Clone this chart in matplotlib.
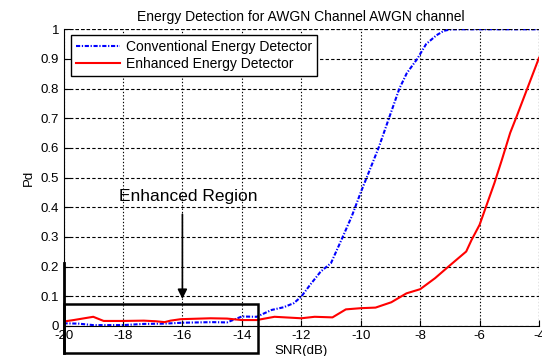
import numpy as np
import matplotlib
matplotlib.use("Agg")
import matplotlib.pyplot as plt
from matplotlib.patches import Rectangle

plt.rcParams['font.family'] = ['Liberation Sans', 'DejaVu Sans']

# conventional detector (blue, dash-dot)
snr_conv = [-20, -19.5, -19, -18.5, -18, -17.3, -16.6, -16, -15.5, -15, -14.5, -14.3,
            -14, -13.5, -13, -12.6, -12.25, -12, -11.7, -11.35, -11, -10.65, -10.3,
            -10.0, -9.8, -9.4, -9.05, -8.7, -8.45, -8.1, -7.8, -7.45, -7.2, -6.95,
            -6.5, -6, -5, -4]
pd_conv = [0.009, 0.008, 0.003, 0.003, 0.003, 0.007, 0.008, 0.011, 0.012, 0.013, 0.012, 0.02,
           0.032, 0.031, 0.054, 0.063, 0.077, 0.099, 0.139, 0.183, 0.212, 0.29, 0.37,
           0.45, 0.5, 0.6, 0.7, 0.8, 0.852, 0.9, 0.95, 0.98, 0.995, 1.0,
           1.0, 1.0, 1.0, 1.0]

# enhanced detector (red, solid)
snr_enh = [-20, -19.66, -19, -18.65, -18, -17.3, -16.9, -16.6, -16.4, -16.05, -15.05, -14.5,
           -14.0, -13.5, -12.9, -12.0, -11.55, -10.95, -10.5, -10.0, -9.5, -8.97, -8.46,
           -8.0, -7.5, -7.05, -6.45, -6.27, -6.0, -5.5, -5.25, -4.97, -4.75, -4.0]
pd_enh = [0.015, 0.02, 0.031, 0.017, 0.017, 0.018, 0.016, 0.013, 0.018, 0.023, 0.026, 0.025,
          0.02, 0.02, 0.031, 0.026, 0.031, 0.029, 0.056, 0.06, 0.062, 0.08, 0.11,
          0.124, 0.161, 0.2, 0.251, 0.29, 0.341, 0.482, 0.56, 0.651, 0.707, 0.904]

xticks = np.arange(-20, -3, 2)
yticks = np.round(np.arange(0, 1.01, 0.1), 1)
ytick_labels = ['0'] + ['%.1f' % v for v in yticks[1:-1]] + ['1']

fig = plt.figure(figsize=(5.42, 3.56), dpi=100)
ax = fig.add_axes([0.1172, 0.0843, 0.8773, 0.8334])

ax.plot(snr_conv, pd_conv, color='blue', ls=(0, (2, 0.8, 0.6, 0.8)), lw=1.5,
        label='Conventional Energy Detector')
ax.plot(snr_enh, pd_enh, color='red', ls='-', lw=1.5, label='Enhanced Energy Detector')

ax.set_xlim(-20, -4)
ax.set_ylim(0, 1)
ax.set_xticks(xticks)
ax.set_xticklabels([str(v) for v in xticks])
ax.set_yticks(yticks)
ax.set_yticklabels(ytick_labels)
ax.tick_params(direction='in', length=4, labelsize=9.5, top=False, right=False, pad=3)

# grid: dotted verticals, dashed horizontals
ax.xaxis.grid(True, color='black', ls=(0, (1.2, 1.8)), lw=0.8)
ax.yaxis.grid(True, color='black', ls=(0, (3, 2)), lw=0.8)
ax.spines['top'].set_visible(False)
ax.spines['right'].set_visible(False)
ax.plot([-20, -4], [1, 1], color='black', ls=(0, (3, 2)), lw=0.8)
ax.plot([-4, -4], [0, 1], color='black', ls=(0, (1.2, 1.8)), lw=0.8)

ax.set_title('Energy Detection for AWGN Channel AWGN channel', fontsize=10, pad=6)
ax.set_xlabel('SNR(dB)', fontsize=9.5, labelpad=2)
ax.set_ylabel('Pd', fontsize=9.5, labelpad=4)

leg = ax.legend(loc='upper left', bbox_to_anchor=(0.0158, 0.981), borderaxespad=0,
                fontsize=10, fancybox=False, edgecolor='black', framealpha=1,
                handlelength=3.2, borderpad=0.35, labelspacing=0.25, handletextpad=0.4)
leg.get_frame().set_linewidth(1.0)

# enhanced region marker
ax.add_patch(Rectangle((-20, -0.091), 6.53, 0.164, fill=False, ec='black', lw=1.8,
                       clip_on=False, zorder=5))
ax.plot([-20, -20], [-0.091, 0.213], color='black', lw=2, clip_on=False, zorder=5)
ax.annotate('', xy=(-16, 0.082), xytext=(-16, 0.386),
            arrowprops=dict(arrowstyle='-|>', color='black', lw=1.2, mutation_scale=14))
ax.text(-15.8, 0.437, 'Enhanced Region', fontsize=12.5, ha='center', va='center')

fig.savefig('out.png', dpi=100)
